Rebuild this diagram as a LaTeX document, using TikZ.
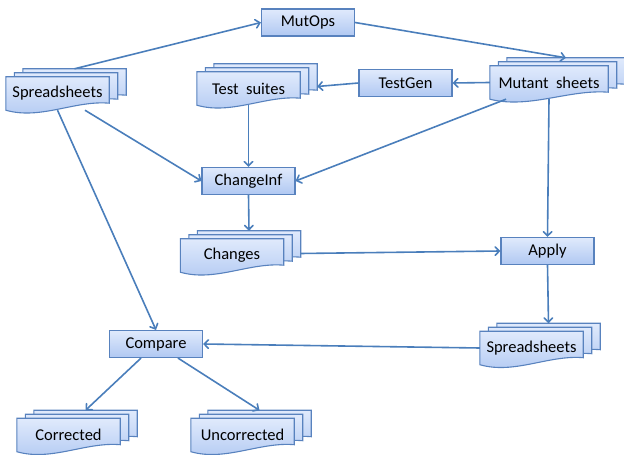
\documentclass[tikz,border=0pt]{standalone}
\usepackage{fontspec}
\setmainfont{Carlito}
\usepackage{xcolor}
\usepackage{tikz}
\usetikzlibrary{
	arrows,calc,backgrounds
}

\definecolor{boxtop}{RGB}{224,234,252}
\definecolor{boxbot}{RGB}{176,200,242}
\definecolor{boxline}{RGB}{88,130,190}
\definecolor{flow}{RGB}{74,126,187}

\tikzset{
	box/.style={draw=boxline, line width=1.1pt, top color=boxtop, bottom color=boxbot,
		minimum width=93pt, minimum height=27pt, inner sep=0pt},
	docs/.style={minimum width=103pt, minimum height=33pt, inner sep=0pt},
	sheet/.style={draw=boxline, line width=1.1pt, top color=boxtop, bottom color=boxbot},
}

% one wavy sheet behind node #1, moved by (#2,#3)
\newcommand{\onesheet}[3]{%
	\path[sheet] let \p1=($(#1.south west)+(#2,#3)$), \p2=($(#1.north east)+(#2,#3)$), \n1={\x2-\x1} in
		(\x1,\y2) -- (\x2,\y2) -- (\x2,\y1+7pt)
		.. controls (\x1+0.667*\n1,\y1+10pt) and (\x1+0.333*\n1,\y1-10pt) .. (\x1,\y1) -- cycle;
}
% three sheets and the two points the arrows use
\newcommand{\stack}[1]{%
	\begin{pgfonlayer}{background}
		\onesheet{#1}{17}{8}
		\onesheet{#1}{8.5}{4}
		\onesheet{#1}{0}{0}
	\end{pgfonlayer}
	\coordinate (#1 top) at ($(#1.north)+(17,8)$);
	\coordinate (#1 right) at ($(#1.east)+(17,2)$);
}

\begin{document}
\begin{tikzpicture}[x=1pt, y=1pt, font=\fontsize{16.5}{19}\selectfont]
		\useasboundingbox (0,0) rectangle (624,455);
		%
		\node[box] (mutops) at (308,432.5) {MutOps};
		\node[box] (testgen) at (405.5,372) {TestGen};
		\node[box] (changeinf) at (248.5,274) {ChangeInf};
		\node[box] (apply) at (547.5,204) {Apply};
		\node[box] (compare) at (156,111) {Compare};
		%
		\node[docs] (ss1) at (57.5,361.5) {Spreadsheets};
		\node[docs] (ts) at (248.5,366.5) {Test~ suites};
		\node[docs, minimum width=118pt] (ms) at (549,372.5) {Mutant~ sheets};
		\node[docs] (ch) at (232,199.5) {Changes};
		\node[docs] (ss2) at (531.5,107) {Spreadsheets};
		\node[docs] (co) at (68.5,20) {Corrected};
		\node[docs] (un) at (242.5,20) {Uncorrected};
		\stack{ss1} \stack{ts} \stack{ms} \stack{ch} \stack{ss2} \stack{co} \stack{un}
		%
		\path[->, flow, line width=1.6pt, >=angle 90]
			(ss1 top) edge (mutops.west)
			(mutops.east) edge (ms top)
			(ms.west) edge (testgen.east)
			(testgen.west) edge (ts right)
			(ts.south) edge (changeinf.north)
			(ss1) edge (changeinf.west)
			(ms) edge (changeinf.east)
			(ms.south) edge (apply.north)
			(changeinf.south) edge (ch top)
			(ch right) edge (apply.west)
			(apply.south) edge (ss2 top)
			(ss2.west) edge (compare.east)
			(ss1.south) edge (compare.north)
			(compare) edge (co top)
			(compare) edge (un top);
	\end{tikzpicture}
\end{document}
